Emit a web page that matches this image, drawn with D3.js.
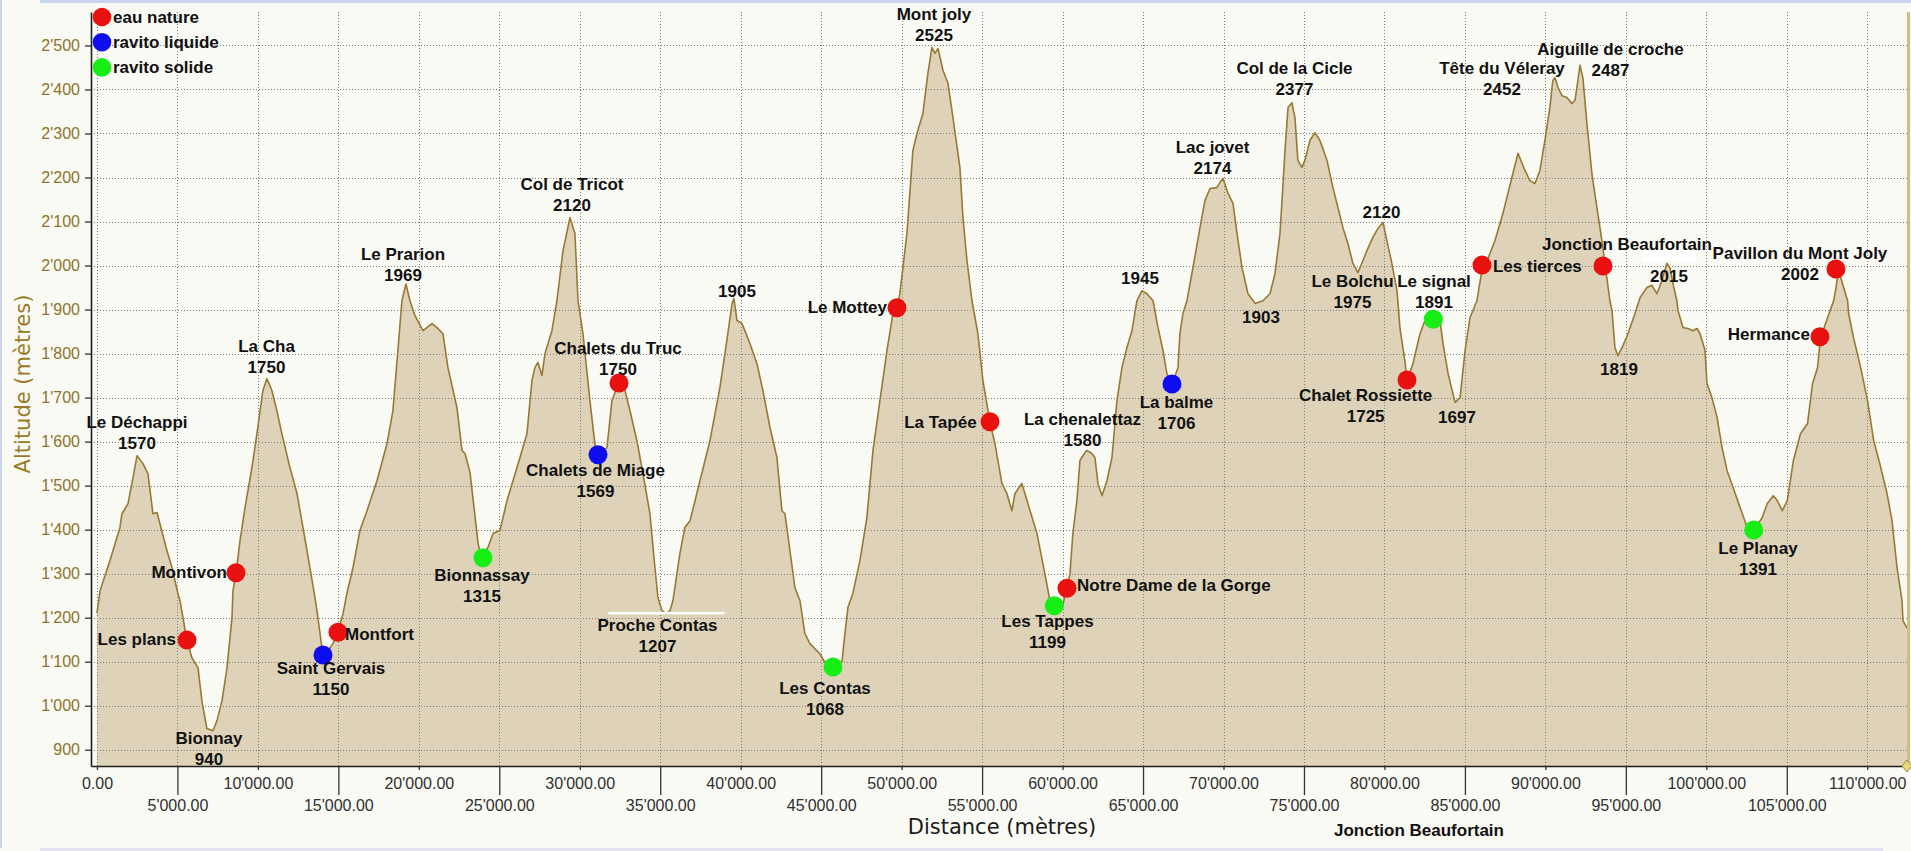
<!DOCTYPE html>
<html>
<head>
<meta charset="utf-8">
<script src="https://cdn.jsdelivr.net/npm/d3@7"></script>
<style>
  html, body { margin: 0; padding: 0; background: #fafaf5; overflow: hidden; }
  svg { display: block; font-family: "Liberation Sans", Arial, sans-serif; }
</style>
</head>
<body>
<svg id="chart"></svg>
<script>
// elevation profile (distance in metres, altitude in metres)
const distance = [
  0,190,810,1430,1550,1930,2240,2490,2860,3170,
  3480,3730,3910,4350,4660,5030,5160,5590,5900,6280,
  6520,6830,7210,7460,7770,8080,8390,8450,8640,8890,
  9200,9630,9940,10310,10560,10870,11180,11490,11990,12430,
  12800,13230,13550,13670,13860,14040,14350,14660,14970,15290,
  15530,15910,16340,16780,17400,18020,18390,18700,18950,19200,
  19450,19760,20260,20820,21130,21500,21810,22370,22680,22870,
  23180,23430,23680,23860,24110,24300,24610,25040,25480,26100,
  26720,27030,27210,27400,27650,27840,28270,28580,28960,29390,
  29700,29890,30200,30630,30940,31130,31690,32000,32310,32440,
  32810,33120,33550,33930,34360,34670,34860,35110,35360,35610,
  35790,36220,36530,36850,37470,38090,38710,39140,39460,39580,
  39770,40080,40260,40570,41010,41380,41820,42250,42560,42750,
  43060,43370,43680,43990,44300,44920,45240,45420,45920,46290,
  46480,46660,46970,47410,47840,48220,48650,49090,49460,49710,
  49890,50330,50700,50950,51320,51630,51880,52070,52260,52570,
  52880,53190,53620,53810,54060,54370,54740,55050,55490,55800,
  56230,56540,56850,57040,57470,57790,58410,58900,59210,59530,
  59960,60270,60460,60640,60890,61080,61390,61510,61820,62010,
  62200,62450,62760,63070,63380,63690,64000,64310,64620,64930,
  65240,65620,65930,66240,66480,66800,67170,67290,67480,67730,
  68100,68540,68850,69160,69590,69780,69970,70280,70590,70840,
  71150,71520,71960,72450,72890,73200,73510,73700,73820,74010,
  74250,74440,74620,74870,75060,75370,75680,75990,76430,76800,
  77110,77420,77730,78040,78350,78660,78910,79280,79590,79910,
  80150,80460,80780,80960,81270,81400,81770,82210,82520,83010,
  83450,83640,83950,84390,84700,85010,85320,85750,86060,86370,
  86870,87360,87920,88300,88730,89040,89350,89660,89970,90280,
  90460,90590,90780,91030,91340,91650,91840,91960,92150,92330,
  92580,92890,93200,93510,93700,94010,94140,94320,94510,94820,
  95130,95570,95880,96310,96620,96930,97240,97550,97740,97930,
  98170,98240,98550,98860,99170,99420,99610,99920,100040,100350,
  100670,100980,101290,101670,102100,102540,102920,103470,103780,104160,
  104410,104720,105030,105410,105850,106290,106600,106910,107100,107540,
  107910,108030,108220,108530,108780,108840,109150,109590,110020,110400,
  110780,111230,111540,111850,112160,112220,112470
];
const altitude = [
  1210,1261,1330,1405,1436,1459,1518,1568,1550,1527,
  1436,1439,1414,1352,1314,1255,1239,1148,1109,1086,
  1011,948,943,966,1011,1086,1200,1261,1300,1375,
  1450,1541,1618,1716,1743,1716,1670,1618,1541,1482,
  1405,1314,1245,1216,1164,1114,1125,1141,1166,1209,
  1255,1314,1398,1443,1511,1595,1670,1807,1920,1958,
  1920,1886,1852,1868,1859,1845,1768,1677,1580,1573,
  1530,1450,1370,1336,1350,1360,1391,1398,1466,1541,
  1618,1739,1768,1780,1750,1800,1852,1920,2034,2109,
  2073,1920,1845,1693,1595,1568,1586,1693,1723,1732,
  1716,1670,1602,1527,1436,1314,1245,1216,1209,1216,
  1239,1345,1405,1420,1511,1602,1723,1830,1913,1925,
  1875,1868,1852,1823,1777,1716,1632,1564,1443,1436,
  1352,1268,1239,1164,1141,1118,1098,1100,1095,1100,
  1164,1223,1255,1330,1427,1580,1693,1807,1891,1902,
  1936,2073,2261,2300,2345,2436,2495,2482,2493,2443,
  2414,2336,2223,2109,2011,1920,1845,1739,1643,1595,
  1505,1482,1443,1482,1505,1466,1391,1300,1239,1215,
  1222,1266,1300,1391,1466,1557,1575,1580,1573,1564,
  1505,1477,1511,1564,1693,1768,1814,1852,1920,1943,
  1936,1920,1859,1807,1755,1729,1768,1845,1891,1920,
  1995,2086,2148,2175,2177,2189,2198,2164,2141,2073,
  1995,1936,1914,1920,1936,1982,2073,2186,2261,2359,
  2370,2336,2239,2223,2239,2284,2302,2284,2239,2177,
  2132,2086,2050,2005,1984,2011,2034,2064,2084,2098,
  2057,2005,1943,1859,1784,1739,1777,1845,1875,1880,
  1875,1823,1755,1689,1700,1807,1882,1920,1990,2010,
  2057,2118,2200,2255,2216,2193,2186,2216,2284,2359,
  2420,2427,2405,2386,2382,2368,2375,2405,2455,2427,
  2323,2209,2132,2057,2005,1920,1898,1814,1795,1818,
  1845,1891,1927,1950,1955,1936,1966,2005,1995,1959,
  1920,1898,1859,1857,1852,1857,1845,1807,1732,1700,
  1655,1586,1534,1495,1450,1405,1398,1427,1459,1477,
  1466,1443,1466,1557,1618,1641,1732,1768,1836,1882,
  1920,1943,1990,1950,1920,1891,1836,1768,1693,1602,
  1550,1482,1420,1314,1239,1193,1177
];

// legend categories
const legendLabels = ['eau nature', 'ravito liquide', 'ravito solide'];

// stops (markers): kind = index in legendLabels
const stopNames = ['Les plans', 'Montivon', 'Saint Gervais', 'Montfort', 'Bionnassay', 'Chalets de Miage',
  'Chalets du Truc', 'Les Contas', 'Le Mottey', 'La Tapée', 'Les Tappes', 'Notre Dame de la Gorge',
  'La balme', 'Chalet Rossiette', 'Le signal', 'Les tierces', 'Jonction Beaufortain', 'Le Planay',
  'Hermance', 'Pavillon du Mont Joly'];
const stopDist = [5595, 8640, 14046, 14978, 23987, 31133, 32438, 45734, 49711, 55490, 59484, 60274,
  66799, 81400, 83034, 86061, 93578, 102948, 107062, 108054];
const stopAlt = [1149, 1302, 1115, 1167, 1336, 1570, 1733, 1088, 1904, 1645, 1227, 1267,
  1731, 1740, 1878, 2001, 1999, 1399, 1838, 1992];
const stopKind = [0, 0, 1, 0, 2, 1, 0, 2, 0, 0, 2, 0, 1, 0, 2, 0, 0, 2, 0, 0];

// annotation texts, anchored in data space (distance, altitude of first baseline)
const labelText = ['Le Déchappi', 'La Cha', 'Le Prarion', 'Montivon', 'Les plans', 'Bionnay', 'Saint Gervais',
  'Montfort', 'Bionnassay', 'Col de Tricot', 'Chalets du Truc', 'Chalets de Miage', 'Proche Contas', '1905',
  'Les Contas', 'Le Mottey', 'Mont joly', 'La Tapée', 'La chenalettaz', 'Notre Dame de la Gorge', 'Les Tappes',
  '1945', 'La balme', 'Lac jovet', 'Col de la Cicle', '1903', 'Le Bolchu', '2120', 'Le signal',
  'Chalet Rossiette', '1697', 'Les tierces', 'Tête du Véleray', 'Aiguille de croche', 'Jonction Beaufortain',
  '2015', '1819', 'Pavillon du Mont Joly', 'Hermance', 'Le Planay', 'Jonction Beaufortain'];
const labelValue = ['1570', '1750', '1969', '', '', '940', '1150',
  '', '1315', '2120', '1750', '1569', '1207', '',
  '1068', '', '2525', '', '1580', '', '1199',
  '', '1706', '2174', '2377', '', '1975', '', '1891',
  '1725', '', '', '2452', '2487', '',
  '', '', '2002', '', '1391', ''];
const labelDist = [2488, 10535, 19016, 8081, 4912, 6962, 14543,
  15413, 23925, 29517, 32375, 30977, 34830, 39769,
  45237, 49090, 52010, 54658, 61237, 60895, 59063,
  64810, 67078, 69315, 74410, 72328, 78014, 79816, 83079,
  78834, 84507, 86743, 87303, 94045, 95070,
  97680, 94573, 105819, 106440, 103210, 82146];
const labelAlt = [1631, 1804, 2013, 1290, 1138, 913, 1072,
  1149, 1283, 2172, 1799, 1522, 1170, 1929,
  1027, 1892, 2557, 1631, 1638, 1261, 1179,
  1958, 1676, 2256, 2435, 1869, 1951, 2108, 1951,
  1692, 1642, 1985, 2435, 2478, 2035,
  1963, 1751, 2015, 1831, 1345, 704];
const labelAlign = ['middle', 'middle', 'middle', 'end', 'end', 'middle', 'middle',
  'start', 'middle', 'middle', 'middle', 'middle', 'middle', 'middle',
  'middle', 'end', 'middle', 'end', 'middle', 'start', 'middle',
  'middle', 'middle', 'middle', 'middle', 'middle', 'middle', 'middle', 'middle',
  'middle', 'middle', 'start', 'middle', 'middle', 'middle',
  'middle', 'middle', 'middle', 'end', 'middle', 'middle'];

const xTicks = d3.range(0, 110001, 5000);
const yTicks = d3.range(900, 2501, 100);

const width = 1911;
const height = 851;
const kindColor = ['#e8110f', '#0d0df0', '#16ee16'];

const svg = d3.select('#chart')
  .attr('width', width)
  .attr('height', height);

svg.append('rect').attr('width', width).attr('height', height).attr('fill', '#fafaf5');

// window frame remains
svg.append('rect').attr('x', 40).attr('y', 0).attr('width', width - 40).attr('height', 3).attr('fill', '#c9d5ef');
svg.append('rect').attr('x', 0).attr('y', 0).attr('width', 2).attr('height', 848).attr('fill', '#c9d5ef');
svg.append('rect').attr('x', 40).attr('y', 848).attr('width', 1843).attr('height', 3).attr('fill', '#e2e2f0');

const x = d3.scaleLinear().domain([-370, 112470]).range([91, 1907]);
const y = d3.scaleLinear().domain([863, 2576]).range([766, 12]);

const loc = d3.formatLocale({ decimal: '.', thousands: "'", grouping: [3], currency: ['', ''] });
const fmtX = loc.format(',.2f');
const fmtY = loc.format(',d');

const profile = distance.map((d, i) => ({ d: d, a: altitude[i] }));

const area = d3.area()
  .x((p) => x(p.d))
  .y0(y.range()[0])
  .y1((p) => y(p.a));

const line = d3.line()
  .x((p) => x(p.d))
  .y((p) => y(p.a));

svg.append('path')
  .datum(profile)
  .attr('d', area)
  .attr('fill', '#ded3b9');

// grid
const grid = svg.append('g')
  .attr('stroke', '#7d7d7d')
  .attr('stroke-width', 1)
  .attr('stroke-dasharray', '1 2')
  .attr('shape-rendering', 'crispEdges');

grid.selectAll('.gx')
  .data(xTicks)
  .enter()
  .append('line')
  .attr('x1', (d) => Math.round(x(d)) + 0.5)
  .attr('x2', (d) => Math.round(x(d)) + 0.5)
  .attr('y1', y.range()[1])
  .attr('y2', y.range()[0]);

grid.selectAll('.gy')
  .data(yTicks)
  .enter()
  .append('line')
  .attr('y1', (d) => Math.round(y(d)) + 0.5)
  .attr('y2', (d) => Math.round(y(d)) + 0.5)
  .attr('x1', x.range()[0])
  .attr('x2', x.range()[1]);

svg.append('path')
  .datum(profile)
  .attr('d', line)
  .attr('fill', 'none')
  .attr('stroke', '#987834')
  .attr('stroke-width', 1.6)
  .attr('stroke-linejoin', 'round');

// right border + end marker
svg.append('rect')
  .attr('x', x.range()[1])
  .attr('y', y.range()[1])
  .attr('width', 3)
  .attr('height', y.range()[0] - y.range()[1])
  .attr('fill', '#d2bd82');

// axes
const yAxis = d3.axisLeft(y)
  .tickValues(yTicks)
  .tickFormat(fmtY)
  .tickSize(6)
  .tickSizeOuter(0)
  .tickPadding(5);

const gy = svg.append('g')
  .attr('transform', `translate(${x.range()[0]},0)`)
  .call(yAxis);
gy.select('.domain').attr('stroke', '#1e1e1e').attr('stroke-width', 1.6);
gy.selectAll('.tick line').attr('stroke', '#333').attr('stroke-width', 1.3);
gy.selectAll('.tick text')
  .attr('fill', '#8e7229')
  .attr('font-size', 16)
  .attr('font-family', '"Liberation Sans", Arial, sans-serif');

const xAxis = d3.axisBottom(x)
  .tickValues(xTicks)
  .tickFormat(fmtX)
  .tickSize(4)
  .tickSizeOuter(0);

const gx = svg.append('g')
  .attr('transform', `translate(0,${y.range()[0]})`)
  .call(xAxis);
gx.select('.domain').attr('stroke', '#1e1e1e').attr('stroke-width', 1.6);
gx.selectAll('.tick line')
  .attr('stroke', '#333')
  .attr('stroke-width', 1.3)
  .attr('y2', (d, i) => (i % 2 ? 29 : 4));
gx.selectAll('.tick text')
  .attr('fill', '#303030')
  .attr('font-size', 16)
  .attr('font-family', '"Liberation Sans", Arial, sans-serif')
  .attr('dy', null)
  .attr('y', (d, i) => (i % 2 ? 45 : 23));

svg.append('path')
  .attr('transform', `translate(${x.range()[1]},${y.range()[0]})`)
  .attr('d', 'M0,-6L5,0L0,6L-5,0Z')
  .attr('fill', '#e9d57a')
  .attr('stroke', '#a08a40');

// axis titles
svg.append('text')
  .attr('transform', 'translate(23,384) rotate(-90)')
  .attr('text-anchor', 'middle')
  .attr('dy', '0.35em')
  .attr('font-family', '"DejaVu Sans", Verdana, sans-serif')
  .attr('font-size', 21)
  .attr('fill', '#9a7a26')
  .text('Altitude (mètres)');

svg.append('text')
  .attr('x', 1002)
  .attr('y', 834)
  .attr('text-anchor', 'middle')
  .attr('font-family', '"DejaVu Sans", Verdana, sans-serif')
  .attr('font-size', 21)
  .attr('fill', '#1a1a1a')
  .text('Distance (mètres)');

// stop markers
svg.append('g')
  .selectAll('circle')
  .data(stopNames)
  .enter()
  .append('circle')
  .attr('cx', (d, i) => x(stopDist[i]))
  .attr('cy', (d, i) => y(stopAlt[i]))
  .attr('r', 9.5)
  .attr('fill', (d, i) => kindColor[stopKind[i]]);

// annotations
const labels = svg.append('g')
  .attr('font-size', 17)
  .attr('font-weight', 'bold')
  .attr('fill', '#111');

labelText.forEach((t, i) => {
  const tx = x(labelDist[i]);
  const ty = y(labelAlt[i]);
  const el = labels.append('text')
    .attr('x', tx)
    .attr('y', ty)
    .attr('text-anchor', labelAlign[i]);
  el.append('tspan').attr('x', tx).text(t);
  if (labelValue[i]) {
    el.append('tspan').attr('x', tx).attr('dy', 21).text(labelValue[i]);
  }
  // white label-box leftovers visible in the original
  if (t === 'Proche Contas') {
    const b = el.node().getBBox();
    labels.insert('rect', ':first-child')
      .attr('x', b.x + 11).attr('y', b.y - 4)
      .attr('width', b.width - 4).attr('height', 2.5)
      .attr('fill', '#fff');
  }
  if (t === '2015') {
    const b = el.node().getBBox();
    labels.insert('rect', ':first-child')
      .attr('x', b.x - 8).attr('y', b.y - 17)
      .attr('width', b.width + 16).attr('height', 12)
      .attr('fill', '#fff');
  }
});

// legend
const legend = svg.append('g').attr('transform', 'translate(102,17)');
legendLabels.forEach((name, i) => {
  legend.append('circle')
    .attr('cx', 0)
    .attr('cy', i * 25.2)
    .attr('r', 9.3)
    .attr('fill', kindColor[i]);
  legend.append('text')
    .attr('x', 11)
    .attr('y', i * 25.2 + 5.5)
    .attr('font-size', 17)
    .attr('font-weight', 'bold')
    .attr('fill', '#111')
    .text(name);
});
</script>
</body>
</html>
